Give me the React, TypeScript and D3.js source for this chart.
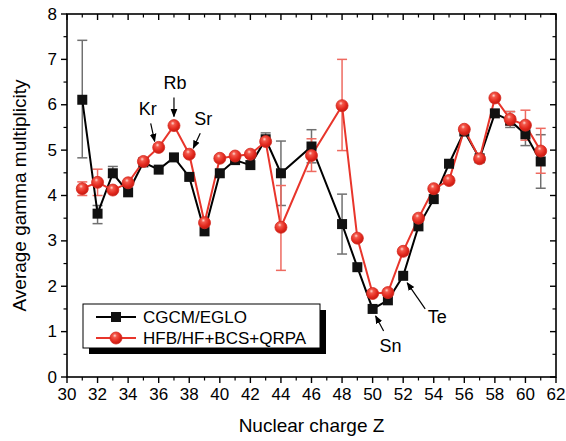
import React from "react";
import * as d3 from "d3";

const Z = [31, 32, 33, 34, 35, 36, 37, 38, 39, 40, 41, 42, 43, 44, 46, 48, 49, 50, 51, 52, 53, 54, 55, 56, 57, 58, 59, 60, 61];
const cgcm = [6.11, 3.6, 4.49, 4.07, 4.73, 4.57, 4.84, 4.41, 3.21, 4.49, 4.78, 4.67, 5.24, 4.49, 5.08, 3.37, 2.42, 1.5, 1.69, 2.23, 3.32, 3.92, 4.7, 5.41, 4.82, 5.81, 5.65, 5.35, 4.75];
const hfb = [4.15, 4.29, 4.12, 4.28, 4.75, 5.06, 5.54, 4.91, 3.4, 4.82, 4.87, 4.91, 5.19, 3.3, 4.88, 5.98, 3.06, 1.84, 1.86, 2.77, 3.5, 4.15, 4.33, 5.46, 4.81, 6.15, 5.68, 5.55, 4.98];

// error bars [Z, low, high]
const cgcmErrZ = [31, 32, 33, 43, 44, 46, 48, 59, 60, 61];
const cgcmErrLo = [4.83, 3.38, 4.4, 5.15, 3.78, 4.72, 2.71, 5.5, 5.1, 4.16];
const cgcmErrHi = [7.42, 3.78, 4.64, 5.38, 5.2, 5.45, 4.03, 5.85, 5.59, 5.34];
const hfbErrZ = [31, 32, 44, 46, 48, 59, 60, 61];
const hfbErrLo = [4.0, 4.0, 2.35, 4.53, 4.99, 5.55, 5.22, 4.49];
const hfbErrHi = [4.3, 4.58, 4.22, 5.25, 7.0, 5.85, 5.88, 5.48];

const xTicks = [30, 32, 34, 36, 38, 40, 42, 44, 46, 48, 50, 52, 54, 56, 58, 60, 62];
const yTicks = [0, 1, 2, 3, 4, 5, 6, 7, 8];

const annLabels = ["Kr", "Rb", "Sr", "Sn", "Te"];
const annZ = [36, 37, 38, 50, 52];
const annSeries = ["hfb", "hfb", "hfb", "cgcm", "cgcm"];

const W = 566, H = 441;
const L = 67, R = 556, T = 14, B = 377;
const FONT = "'Liberation Sans', Arial, Helvetica, sans-serif";
const RED = "#e8352b";

export default function App() {
  const x = d3.scaleLinear().domain([30, 62]).range([L, R]);
  const y = d3.scaleLinear().domain([0, 8]).range([B, T]);
  const line = d3.line<number>().x((_, i) => x(Z[i])).y((d) => y(d));

  const minorX = d3.range(30, 63, 1).filter((v) => v % 2 !== 0);
  const minorY = d3.range(0.5, 8, 1);

  // annotation geometry: offsets from the target point (text center, arrow start, arrow end)
  const annGeom = [
    { t: [-11, -38], a0: [-8, -24], a1: [-4, -6] },
    { t: [1, -43], a0: [0, -28], a1: [0, -9] },
    { t: [14, -35], a0: [11, -21], a1: [4, -6] },
    { t: [18, 37], a0: [11, 22], a1: [3, 7] },
    { t: [34, 41], a0: [22, 33], a1: [4, 7] },
  ];

  const errBar = (zs: number[], lo: number[], hi: number[], color: string, key: string) =>
    zs.map((z, i) => (
      <g key={key + i} stroke={color} strokeWidth={1.5}>
        <line x1={x(z)} x2={x(z)} y1={y(lo[i])} y2={y(hi[i])} />
        <line x1={x(z) - 5} x2={x(z) + 5} y1={y(lo[i])} y2={y(lo[i])} />
        <line x1={x(z) - 5} x2={x(z) + 5} y1={y(hi[i])} y2={y(hi[i])} />
      </g>
    ));

  const sphere = (cx: number, cy: number, key: string | number) => (
    <circle key={key} cx={cx} cy={cy} r={6} fill="url(#sph)" stroke="#d42a20" strokeWidth={0.8} />
  );

  return (
    <svg width={W} height={H} style={{ position: "absolute", left: 0, top: 0, background: "#fff" }} fontFamily={FONT}>
      <defs>
        <radialGradient id="sph" cx="40%" cy="35%" r="65%" fx="40%" fy="30%">
          <stop offset="0%" stopColor="#ffd8d0" />
          <stop offset="25%" stopColor="#f3574a" />
          <stop offset="70%" stopColor="#e2281d" />
          <stop offset="100%" stopColor="#c41a12" />
        </radialGradient>
        <marker id="arr" viewBox="0 0 10 10" refX="9" refY="5" markerWidth="7" markerHeight="7" orient="auto">
          <path d="M0,1 L10,5 L0,9 Z" fill="#000" />
        </marker>
      </defs>

      {/* error bars */}
      {errBar(cgcmErrZ, cgcmErrLo, cgcmErrHi, "#707070", "ce")}
      {errBar(hfbErrZ, hfbErrLo, hfbErrHi, "#ee6a60", "he")}

      {/* lines */}
      <path d={line(cgcm) || ""} fill="none" stroke="#000" strokeWidth={2} />
      <path d={line(hfb) || ""} fill="none" stroke={RED} strokeWidth={2} />

      {/* markers */}
      {cgcm.map((v, i) => (
        <rect key={"s" + i} x={x(Z[i]) - 5} y={y(v) - 5} width={10} height={10} fill="#111" />
      ))}
      {hfb.map((v, i) => sphere(x(Z[i]), y(v), "c" + i))}

      {/* annotations */}
      {annLabels.map((lab, i) => {
        const v = annSeries[i] === "hfb" ? hfb[Z.indexOf(annZ[i])] : cgcm[Z.indexOf(annZ[i])];
        const px = x(annZ[i]), py = y(v);
        const g = annGeom[i];
        return (
          <g key={"a" + i}>
            <line x1={px + g.a0[0]} y1={py + g.a0[1]} x2={px + g.a1[0]} y2={py + g.a1[1]} stroke="#000" strokeWidth={1.2} markerEnd="url(#arr)" />
            <text x={px + g.t[0]} y={py + g.t[1]} textAnchor="middle" dominantBaseline="central" fontSize={18}>{lab}</text>
          </g>
        );
      })}

      {/* frame */}
      <rect x={L} y={T} width={R - L} height={B - T} fill="none" stroke="#000" strokeWidth={1.6} />

      {/* bottom ticks (outward) */}
      {xTicks.map((t) => (
        <g key={"xb" + t}>
          <line x1={x(t)} x2={x(t)} y1={B} y2={B + 6} stroke="#000" strokeWidth={1.4} />
          <line x1={x(t)} x2={x(t)} y1={T} y2={T + 6} stroke="#000" strokeWidth={1.4} />
          <text x={x(t)} y={B + 23} textAnchor="middle" fontSize={17}>{t}</text>
        </g>
      ))}
      {minorX.map((t) => (
        <g key={"xm" + t}>
          <line x1={x(t)} x2={x(t)} y1={B} y2={B + 3.5} stroke="#000" strokeWidth={1.2} />
          <line x1={x(t)} x2={x(t)} y1={T} y2={T + 3.5} stroke="#000" strokeWidth={1.2} />
        </g>
      ))}
      {yTicks.map((t) => (
        <g key={"yt" + t}>
          <line x1={L - 6} x2={L} y1={y(t)} y2={y(t)} stroke="#000" strokeWidth={1.4} />
          <line x1={R - 6} x2={R} y1={y(t)} y2={y(t)} stroke="#000" strokeWidth={1.4} />
          <text x={L - 10} y={y(t)} textAnchor="end" dominantBaseline="central" fontSize={17}>{t}</text>
        </g>
      ))}
      {minorY.map((t) => (
        <g key={"ym" + t}>
          <line x1={L - 3.5} x2={L} y1={y(t)} y2={y(t)} stroke="#000" strokeWidth={1.2} />
          <line x1={R - 3.5} x2={R} y1={y(t)} y2={y(t)} stroke="#000" strokeWidth={1.2} />
        </g>
      ))}

      {/* axis titles */}
      <text x={(L + R) / 2} y={B + 55} textAnchor="middle" fontSize={19}>Nuclear charge Z</text>
      <text transform={`translate(${19},${(T + B) / 2}) rotate(-90)`} textAnchor="middle" dominantBaseline="central" fontSize={19}>
        Average gamma multiplicity
      </text>

      {/* legend */}
      <g>
        <rect x={89} y={310} width={237} height={44} fill="#000" />
        <rect x={83} y={304} width={237} height={44} fill="#fff" stroke="#000" strokeWidth={1} />
        <line x1={96} x2={136} y1={317} y2={317} stroke="#000" strokeWidth={2} />
        <rect x={111} y={312} width={10} height={10} fill="#111" />
        <text x={143} y={317} dominantBaseline="central" fontSize={17}>CGCM/EGLO</text>
        <line x1={96} x2={136} y1={338} y2={338} stroke={RED} strokeWidth={2} />
        {sphere(116, 338, "leg")}
        <text x={143} y={338} dominantBaseline="central" fontSize={17}>HFB/HF+BCS+QRPA</text>
      </g>
    </svg>
  );
}
